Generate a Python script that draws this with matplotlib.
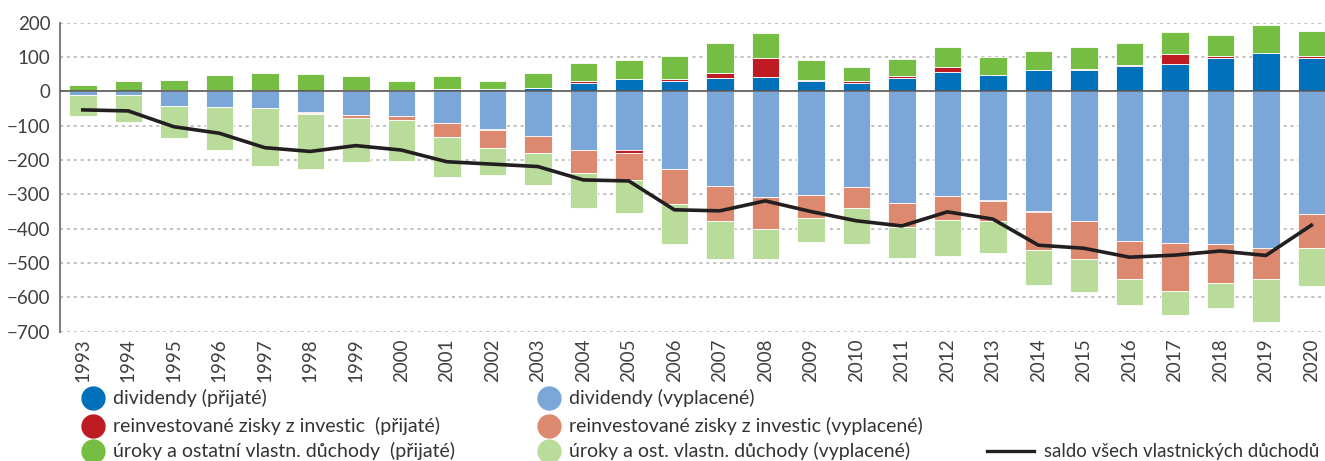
import numpy as np
import matplotlib.pyplot as plt
from matplotlib.lines import Line2D

plt.rcParams['font.family'] = ['Lato', 'DejaVu Sans']

years = [str(y) for y in range(1993, 2021)]

# prijate (received)
div_rec = [1, 1, 3, 3, 4, 2, 3, 3, 6, 6, 9, 24, 36, 31, 39, 41, 30, 25, 39, 56, 48, 63, 63, 73, 81, 98, 113, 98]
reinv_rec = [0, 0, 0, 0, 0, -2, 0, 0, 2, -2, 2, 7, -7, 5, 15, 56, 3, 4, 5, 15, -2, -2, 3, 3, 29, 5, 0, 6]
int_rec = [18, 29, 30, 46, 50, 48, 42, 27, 38, 24, 43, 53, 55, 66, 86, 74, 58, 42, 51, 57, 51, 55, 62, 64, 64, 62, 80, 73]

# vyplacene (paid)
div_paid = [-10, -10, -44, -47, -48, -61, -70, -73, -93, -110, -129, -172, -172, -227, -276, -308, -303, -278,
            -325, -306, -316, -349, -377, -436, -442, -444, -457, -358]
reinv_paid = [0, 0, 0, 0, 0, -3, -7, -10, -40, -53, -50, -66, -78, -101, -101, -92, -66, -63,
              -69, -69, -60, -110, -110, -111, -139, -114, -90, -98]
int_paid = [-63, -78, -92, -124, -170, -159, -129, -120, -116, -78, -95, -103, -96, -118, -111, -88, -70, -105,
            -92, -105, -92, -104, -98, -75, -69, -73, -124, -110]

saldo = [-54, -57, -103, -122, -164, -175, -158, -171, -205, -212, -219, -258, -261, -345, -348, -319, -350, -377,
         -392, -351, -372, -448, -457, -483, -477, -465, -478, -390]

labels = ['dividendy (přijaté)', 'reinvestované zisky z investic  (přijaté)',
          'úroky a ostatní vlastn. důchody  (přijaté)', 'dividendy (vyplacené)',
          'reinvestované zisky z investic (vyplacené)', 'úroky a ost. vlastn. důchody (vyplacené)']
colors = ['#0070bb', '#be1b22', '#76bd43', '#7ba6d8', '#dc896f', '#badc9a']
line_label = 'saldo všech vlastnických důchodů'

fig = plt.figure(figsize=(13.25, 4.61), dpi=100)
ax = fig.add_axes([0.0453, 0.2805, 0.9547, 0.6703])

x = np.arange(len(years))
w = 0.604
pos = np.zeros(len(years))
neg = np.zeros(len(years))
series = [div_rec, reinv_rec, int_rec, div_paid, reinv_paid, int_paid]
order = [0, 3, 1, 2, 4, 5]
for i in order:
    v = np.array(series[i], dtype=float)
    bottom = np.where(v >= 0, pos, neg)
    ax.bar(x, v, w, bottom=bottom, color=colors[i], edgecolor='white', linewidth=0.6, zorder=3)
    pos = pos + np.where(v >= 0, v, 0)
    neg = neg + np.where(v < 0, v, 0)

ax.plot(x, saldo, color='#231f20', lw=2.6, zorder=4)
ax.axhline(0, color='#555555', lw=1.2, zorder=5)

ax.set_ylim(-700, 200)
ax.set_xlim(-0.5, 27.3)
ax.set_yticks(range(-700, 201, 100))
ax.set_yticklabels([str(t).replace('-', '\u2212') for t in range(-700, 201, 100)])
ax.set_xticks(x)
ax.set_xticklabels(years, rotation=90)
ax.tick_params(axis='both', length=0, labelsize=13.5, labelcolor='#404040')
ax.tick_params(axis='y', pad=7)
ax.tick_params(axis='x', pad=5)
for t in range(-700, 201, 100):
    if t != 0:
        ax.axhline(t, color='#b0b0b0', lw=1.1, ls=(0, (2, 2.5)), zorder=1)
for s in ['top', 'right', 'bottom']:
    ax.spines[s].set_visible(False)
ax.spines['left'].set_color('#808080')
ax.spines['left'].set_linewidth(1.5)

# legenda
rows = [0.136, 0.077, 0.021]
for k in range(3):
    for col, (cx, tx) in enumerate([(0.0704, 0.0853), (0.4143, 0.4294)]):
        i = col * 3 + k
        fig.add_artist(Line2D([cx], [rows[k]], marker='o', ms=16.5, color=colors[i], ls='none',
                              transform=fig.transFigure))
        fig.text(tx, rows[k], labels[i], fontsize=14, color='#333333', va='center')
fig.add_artist(Line2D([0.7447, 0.7800], [rows[2], rows[2]], color='#231f20', lw=2.4,
                      transform=fig.transFigure))
fig.text(0.996, rows[2], line_label, fontsize=13.4, color='#333333', va='center', ha='right')

fig.savefig('out.png', dpi=100)
